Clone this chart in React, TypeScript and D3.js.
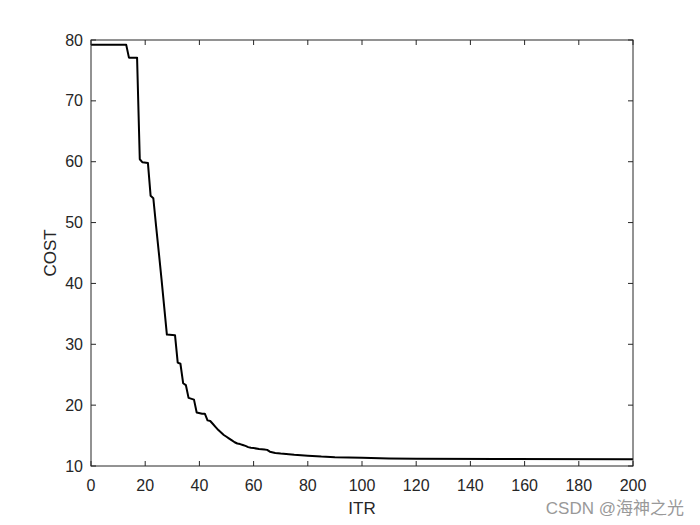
import React from "react";
import * as d3 from "d3";

const itr = [0, 13, 14, 17, 18, 19, 21, 22, 23, 24, 25, 26, 27, 28, 31, 32, 33, 34, 35, 36, 38, 39, 41, 42, 43, 44, 45, 46, 47, 48, 49, 50, 51, 52, 53, 54, 55, 56, 57, 58, 59, 60, 62, 64, 65, 66, 68, 70, 75, 80, 85, 90, 100, 110, 120, 150, 200];
const cost = [79.2, 79.2, 77.1, 77.1, 60.4, 59.9, 59.8, 54.4, 54.0, 49.5, 45.2, 40.8, 36.2, 31.6, 31.5, 27.0, 26.8, 23.6, 23.3, 21.2, 20.9, 18.8, 18.6, 18.6, 17.5, 17.4, 16.9, 16.4, 15.9, 15.5, 15.1, 14.8, 14.5, 14.2, 13.9, 13.7, 13.6, 13.45, 13.3, 13.1, 13.0, 12.95, 12.8, 12.7, 12.65, 12.35, 12.15, 12.05, 11.85, 11.7, 11.55, 11.45, 11.35, 11.25, 11.2, 11.15, 11.12];
const xTicks = [0, 20, 40, 60, 80, 100, 120, 140, 160, 180, 200];
const yTicks = [10, 20, 30, 40, 50, 60, 70, 80];
const xLabel = "ITR";
const yLabel = "COST";
const watermark = "CSDN @海神之光";

export default function App() {
  const W = 700, H = 525;
  const L = 91, T = 40, R = 633, B = 466;
  const x = d3.scaleLinear().domain([0, 200]).range([L, R]);
  const y = d3.scaleLinear().domain([10, 80]).range([B, T]);
  const pts = itr.map((v, i) => [v, cost[i]] as [number, number]);
  const line = d3.line<[number, number]>().x(d => x(d[0])).y(d => y(d[1]));
  const ax = "#262626";
  const font = "'Liberation Sans', Arial, sans-serif";
  const tl = 5;
  return (
    <svg width={W} height={H} style={{ position: "absolute", left: 0, top: 0, background: "#fff" }}>
      <rect x={0} y={0} width={W} height={H} fill="#fff" />
      <path d={line(pts) || ""} fill="none" stroke="#000" strokeWidth={2} strokeLinejoin="round" />
      <rect x={L} y={T} width={R - L} height={B - T} fill="none" stroke={ax} strokeWidth={1} />
      {xTicks.map(t => (
        <g key={"x" + t}>
          <line x1={x(t)} x2={x(t)} y1={B} y2={B - tl} stroke={ax} />
          <line x1={x(t)} x2={x(t)} y1={T} y2={T + tl} stroke={ax} />
          <text x={x(t)} y={B + 25} textAnchor="middle" fontFamily={font} fontSize={16} fill={ax}>{t}</text>
        </g>
      ))}
      {yTicks.map(t => (
        <g key={"y" + t}>
          <line x1={L} x2={L + tl} y1={y(t)} y2={y(t)} stroke={ax} />
          <line x1={R} x2={R - tl} y1={y(t)} y2={y(t)} stroke={ax} />
          <text x={L - 8} y={y(t) + 5.5} textAnchor="end" fontFamily={font} fontSize={16} fill={ax}>{t}</text>
        </g>
      ))}
      <text x={(L + R) / 2} y={514} textAnchor="middle" fontFamily={font} fontSize={17} fill={ax}>{xLabel}</text>
      <text transform={`translate(56, ${(T + B) / 2}) rotate(-90)`} textAnchor="middle" fontFamily={font} fontSize={17} fill={ax}>{yLabel}</text>
      <text x={684} y={514} textAnchor="end" fontFamily={`'Liberation Sans', 'Noto Sans CJK SC', sans-serif`} fontSize={17} fill="#999">{watermark}</text>
    </svg>
  );
}
